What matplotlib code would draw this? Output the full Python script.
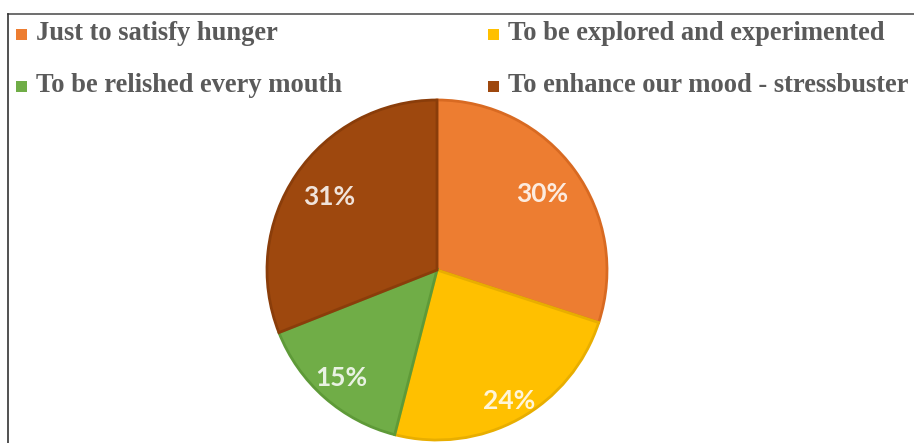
import matplotlib
matplotlib.use("Agg")
import numpy as np
import matplotlib.pyplot as plt
from matplotlib.patches import Rectangle
from matplotlib.lines import Line2D

categories = [
    "Just to satisfy hunger",
    "To be explored and experimented",
    "To be relished every mouth",
    "To enhance our mood - stressbuster",
]
shares = [30, 24, 15, 31]
colors = ["#ED7D31", "#FFC000", "#70AD47", "#9E480E"]
edge_colors = ["#D86A22", "#E8AE00", "#5E9A38", "#8A3D0A"]
label_radius = [0.765, 0.88, 0.85, 0.765]

W, H = 914, 443
fig = plt.figure(figsize=(W / 100, H / 100), dpi=100)
fig.patch.set_facecolor("white")

# pie axes: centre (437, 270) px from top-left, radius 170 px
cx, cy, r = 437, 270, 170
ax = fig.add_axes([(cx - r) / W, (H - cy - r) / H, 2 * r / W, 2 * r / H])
wedges, texts, autotexts = ax.pie(
    shares,
    colors=colors,
    startangle=90,
    counterclock=False,
    autopct=lambda p: f"{p:.0f}%",
    pctdistance=0.76,
    wedgeprops=dict(linewidth=2.0),
    textprops=dict(color="white", fontsize=19, fontweight="bold", family="Lato"),
)
for w, ec, t, d in zip(wedges, edge_colors, autotexts, label_radius):
    w.set_edgecolor(ec)
    mid = np.deg2rad((w.theta1 + w.theta2) / 2)
    t.set_position((d * np.cos(mid), d * np.sin(mid)))
    t.set_alpha(0.85)
ax.set_xlim(-1, 1)
ax.set_ylim(-1, 1)
ax.set_aspect("equal")
ax.axis("off")

# frame lines (top and left)
fig.add_artist(Line2D([8 / W, 1.0], [1 - 14 / H, 1 - 14 / H], color="#555555", lw=1.2,
                      transform=fig.transFigure))
fig.add_artist(Line2D([8 / W, 8 / W], [0, 1 - 14 / H], color="#333333", lw=1.2,
                      transform=fig.transFigure))

# legend laid out in two rows of two entries
legend_slots = [(16, 34), (488, 34), (16, 86), (488, 86)]
for (mx, my), label, col in zip(legend_slots, categories, colors):
    s = 11
    fig.add_artist(Rectangle((mx / W, (H - my - s / 2) / H), s / W, s / H,
                             facecolor=col, edgecolor="none",
                             transform=fig.transFigure))
    fig.text((mx + s + 9) / W, (H - my) / H, label, ha="left", va="center",
             fontsize=19.1, fontweight="bold", family="Liberation Serif",
             color="#5A5A5A")

fig.savefig("out.png", dpi=100, facecolor="white")
